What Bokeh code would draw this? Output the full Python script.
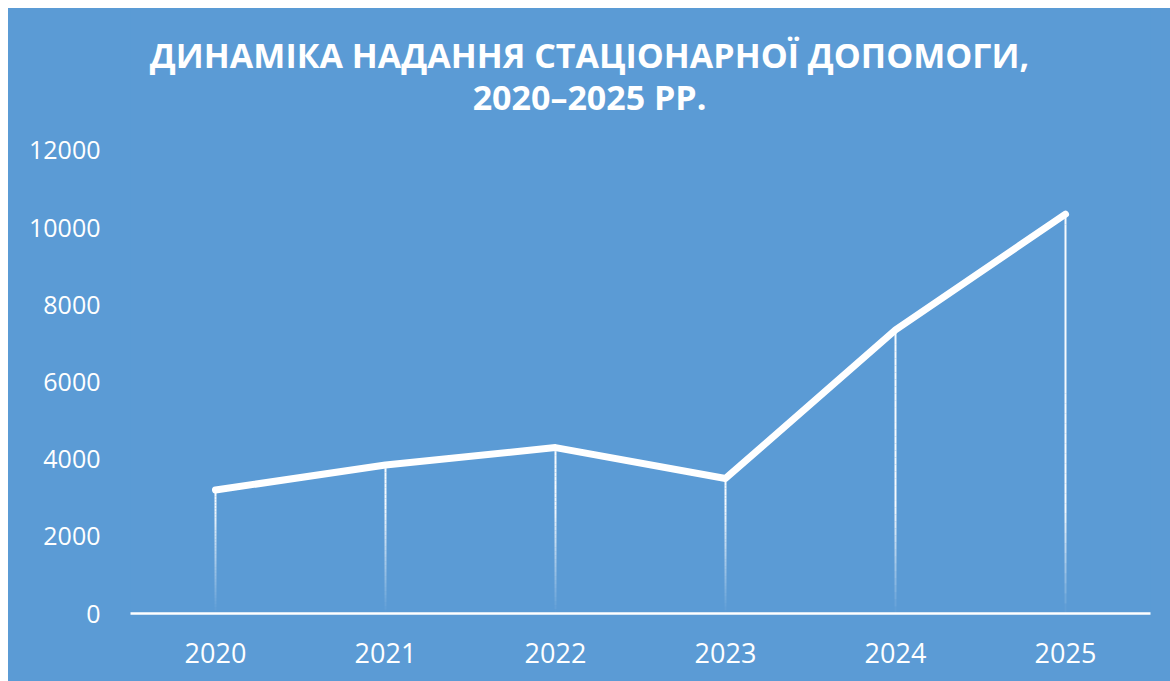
from bokeh.plotting import figure
from bokeh.models import FactorRange, Range1d, FixedTicker, ColumnDataSource
from bokeh.transform import dodge
from bokeh.core.properties import value
from bokeh.embed import file_html
from bokeh.resources import INLINE

years = ["2020", "2021", "2022", "2023", "2024", "2025"]
values = [3200, 3850, 4300, 3500, 7350, 10350]
y_ticks = [0, 2000, 4000, 6000, 8000, 10000, 12000]
title_lines = ["ДИНАМІКА НАДАННЯ СТАЦІОНАРНОЇ ДОПОМОГИ,", "2020–2025 РР."]

BG = "#5B9BD5"
Y_MAX = 12000
Y_TOP = 15680          # frame reaches up to the top edge so the title sits inside it

p = figure(x_range=FactorRange(*years, range_padding=0), y_range=Range1d(0, Y_TOP),
           width=1162, height=673, output_backend="svg", toolbar_location=None,
           min_border_left=122, min_border_right=20, min_border_top=0, min_border_bottom=68)
p.margin = (8, 0, 0, 8)
p.styles = {"background-color": BG}
p.background_fill_color = BG
p.border_fill_color = BG
p.outline_line_color = None
p.xgrid.grid_line_color = None
p.ygrid.grid_line_color = None

# fading drop lines
n = 40
xs0, ys0, ys1, alphas = [], [], [], []
for yr, v in zip(years, values):
    for i in range(n):
        a = v * i / n
        b = v * (i + 1) / n
        xs0.append(yr)
        ys0.append(a)
        ys1.append(b)
        alphas.append(min(1.0, ((a + b) / 2) / 2800.0) * 0.95)
src = ColumnDataSource(dict(x=xs0, y0=ys0, y1=ys1, a=alphas))
p.segment(x0="x", y0="y0", x1="x", y1="y1", source=src, line_color="white",
          line_alpha="a", line_width=2)

p.line(years, values, line_color="white", line_width=7, line_join="round", line_cap="round")

# axes
p.xaxis.axis_line_color = "white"
p.xaxis.axis_line_width = 2.5
p.xaxis.major_tick_line_color = None
p.xaxis.minor_tick_line_color = None
p.xaxis.major_label_text_color = "white"
p.xaxis.major_label_text_font = "Open Sans"
p.xaxis.major_label_text_font_size = "27px"
p.xaxis.major_label_standoff = 23

p.yaxis.ticker = FixedTicker(ticks=y_ticks)
p.yaxis.axis_line_color = None
p.yaxis.major_tick_line_color = None
p.yaxis.minor_tick_line_color = None
p.yaxis.major_label_text_color = "white"
p.yaxis.major_label_text_font = "Open Sans"
p.yaxis.major_label_text_font_size = "25px"
p.yaxis.major_label_standoff = 24

# title
tsrc = ColumnDataSource(dict(x=["2022", "2022"], y=[14462, 13374], t=title_lines))
p.text(x=dodge("x", 0.2, range=p.x_range), y="y", text="t", source=tsrc,
       text_align="center", text_baseline="middle", text_color="white",
       text_font=value("Open Sans"), text_font_style="bold", text_font_size="34px")

open("out.html", "w").write(file_html(p, INLINE))
